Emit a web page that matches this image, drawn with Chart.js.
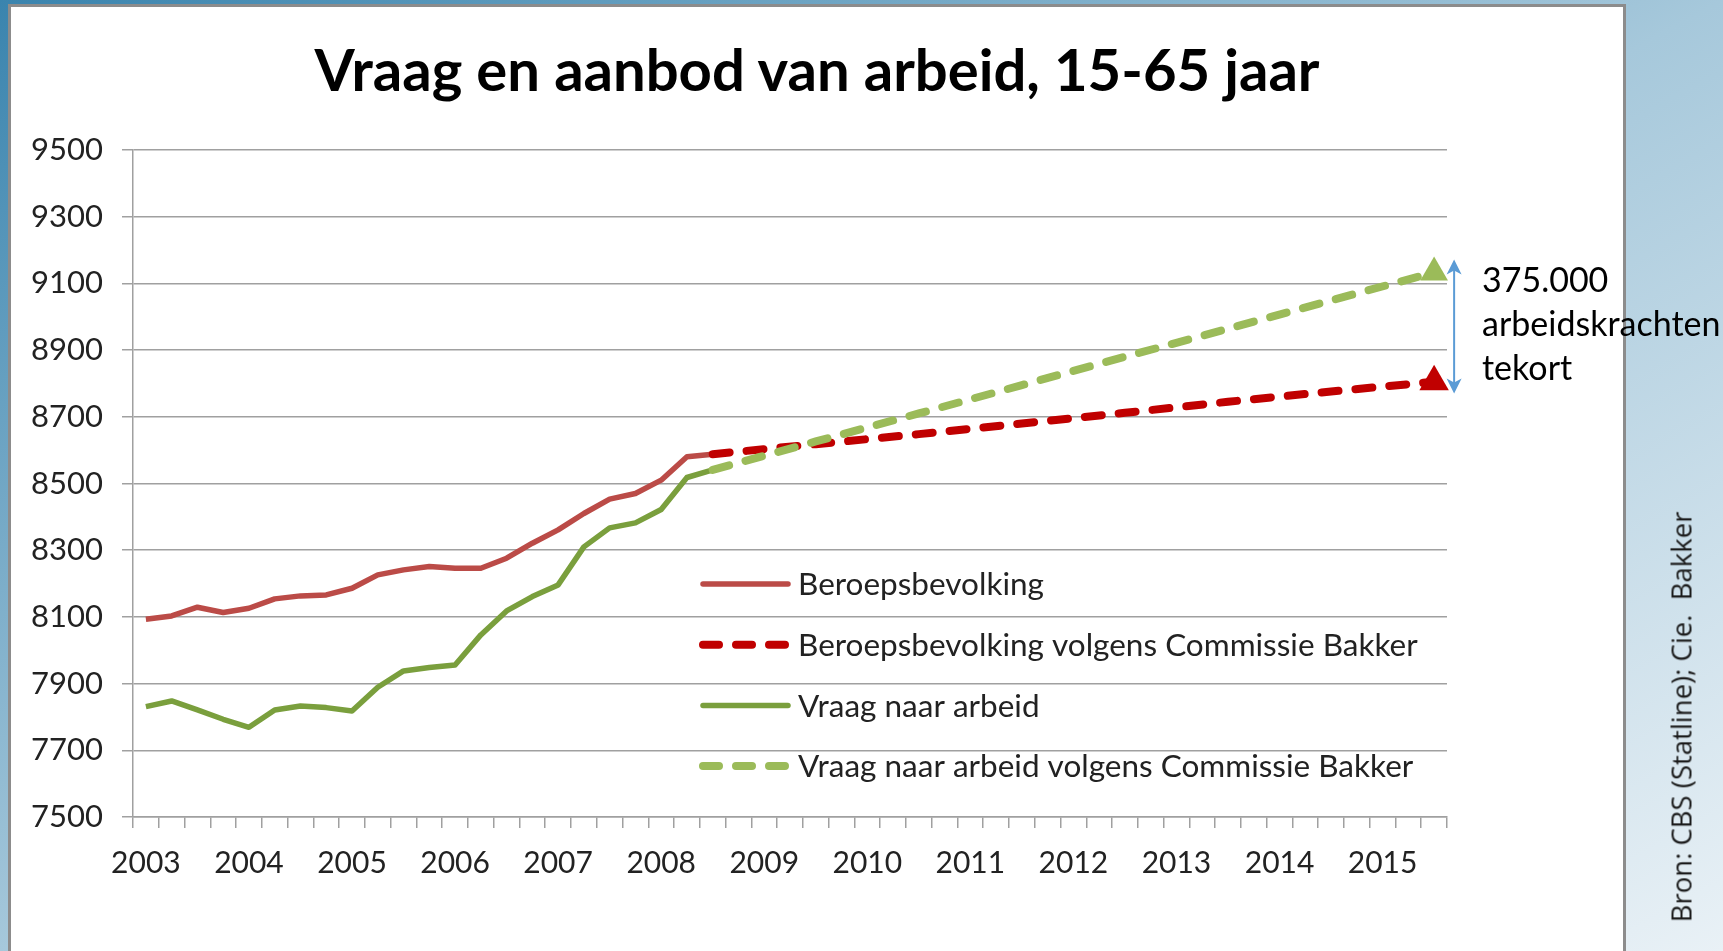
<!DOCTYPE html>
<html>
<head>
<meta charset="utf-8">
<title>Vraag en aanbod van arbeid, 15-65 jaar</title>
<script src="https://cdn.jsdelivr.net/npm/chart.js@4.4.1/dist/chart.umd.min.js"></script>
<style>
  html, body { margin: 0; padding: 0; }
  body {
    width: 1723px;
    height: 951px;
    overflow: hidden;
    position: relative;
    background: linear-gradient(to bottom right, #3a84ae 0%, #a6c8db 50%, #e9f1f6 100%);
    font-family: Lato, sans-serif;
  }
  .panel {
    position: absolute;
    left: 8px;
    top: 4px;
    width: 1612px;
    height: 980px;
    background: #fff;
    border: 3px solid #8c8c8c;
  }
  #chart { position: absolute; left: 0; top: 0; }
  .title {
    position: absolute;
    left: 0;
    top: 40px;
    width: 1634px;
    text-align: center;
    font: bold 58px/58px Lato, sans-serif;
    color: #000;
    white-space: nowrap;
  }
  .gap-label {
    position: absolute;
    left: 1482px;
    top: 257px;
    font: 34px/44px Lato, sans-serif;
    color: #000;
    white-space: nowrap;
  }
  .bron {
    position: absolute;
    left: 1681px;
    top: 717px;
    transform: translate(-50%, -50%) rotate(-90deg);
    font: 27.5px "Open Sans", sans-serif;
    color: #1a1a1a;
    white-space: nowrap;
  }
</style>
</head>
<body>

<div class="panel"></div>
<canvas id="chart" width="1723" height="951"></canvas>
<div class="title">Vraag en aanbod van arbeid, 15-65 jaar</div>
<div class="gap-label">375.000<br>arbeidskrachten<br>tekort</div>
<div class="bron">Bron: CBS (Statline); Cie.&nbsp; Bakker</div>

<script>
// per kwartaal, 2003 K1 t/m 2015 K3
const years = ['2003', '2004', '2005', '2006', '2007', '2008', '2009',
               '2010', '2011', '2012', '2013', '2014', '2015'];
const quarters = [];
years.forEach(y => ['K1', 'K2', 'K3', 'K4'].forEach(q => quarters.push(y + ' ' + q)));
quarters.length = 51;

const yTicks = [7500, 7700, 7900, 8100, 8300, 8500, 8700, 8900, 9100, 9300, 9500];

// gemeten reeksen (x 1000)
const beroepsbevolking = [8093, 8103, 8129, 8113, 8126, 8154, 8163, 8166, 8186, 8226,
                          8241, 8251, 8246, 8246, 8276, 8321, 8361, 8410, 8453, 8470,
                          8510, 8580, 8588];
const vraagNaarArbeid = [7831, 7848, 7821, 7793, 7769, 7821, 7833, 7828, 7818, 7889,
                         7938, 7948, 7956, 8046, 8118, 8161, 8196, 8310, 8367, 8382,
                         8422, 8518, 8541];

// prognose Commissie Bakker
const bakkerQuarters = ['2008 K3', '2009 K3', '2010 K3', '2011 K3', '2012 K3', '2013 K3', '2014 K3', '2015 K3'];
const beroepsBakker = [8588, 8618, 8648, 8680, 8712, 8745, 8776, 8805];
const vraagBakker = [8541, 8626, 8710, 8795, 8880, 8964, 9049, 9133];

// pijl tussen de twee eindpunten
const gapArrow = [8770, 9172];

const gridColor = '#a0a0a0';
const textColor = '#222';
const dashPattern = [17, 17];

function lastPoint(r) {
  return ctx => (ctx.dataIndex === ctx.dataset.data.length - 1 ? r : 0);
}

const insideLegend = {
  id: 'insideLegend',
  afterDatasetsDraw(chart) {
    const { ctx, chartArea } = chart;
    const x0 = chartArea.left + 567;
    const y0 = chartArea.top + 434;
    chart.data.datasets.forEach((ds, i) => {
      const y = y0 + i * 60.7;
      ctx.save();
      ctx.strokeStyle = ds.borderColor;
      ctx.lineWidth = ds.borderWidth;
      ctx.lineCap = 'round';
      ctx.setLineDash(ds.borderDash ? [16, 17] : []);
      ctx.beginPath();
      ctx.moveTo(x0 + 3, y);
      ctx.lineTo(x0 + 88, y);
      ctx.stroke();
      ctx.setLineDash([]);
      ctx.fillStyle = textColor;
      ctx.font = '31.5px Lato';
      ctx.textBaseline = 'middle';
      ctx.fillText(ds.label, x0 + 98, y + 1);
      ctx.restore();
    });
  }
};

const arrowPlugin = {
  id: 'gapArrow',
  afterDatasetsDraw(chart) {
    const { ctx, scales: { x, y } } = chart;
    const px = x.getPixelForValue(quarters.length - 1) + 20;
    const top = y.getPixelForValue(gapArrow[1]);
    const bottom = y.getPixelForValue(gapArrow[0]);
    ctx.save();
    ctx.strokeStyle = '#5b9bd5';
    ctx.fillStyle = '#5b9bd5';
    ctx.lineWidth = 2;
    ctx.beginPath();
    ctx.moveTo(px, top + 8);
    ctx.lineTo(px, bottom - 8);
    ctx.stroke();
    const head = (tip, dir) => {
      ctx.beginPath();
      ctx.moveTo(px, tip);
      ctx.lineTo(px - 7.5, tip + dir * 15);
      ctx.lineTo(px, tip + dir * 11);
      ctx.lineTo(px + 7.5, tip + dir * 15);
      ctx.closePath();
      ctx.fill();
    };
    head(top, 1);
    head(bottom, -1);
    ctx.restore();
  }
};

new Chart(document.getElementById('chart'), {
  type: 'line',
  data: {
    labels: quarters,
    datasets: [
      {
        label: 'Beroepsbevolking',
        data: beroepsbevolking,
        borderColor: '#bb4b47',
        borderWidth: 5.5,
        pointRadius: 0,
        order: 2
      },
      {
        label: 'Beroepsbevolking volgens Commissie Bakker',
        data: bakkerQuarters.map((q, i) => ({ x: q, y: beroepsBakker[i] })),
        borderColor: '#c00000',
        backgroundColor: '#c00000',
        borderWidth: 8,
        borderDash: dashPattern,
        borderCapStyle: 'round',
        pointStyle: 'triangle',
        pointRadius: lastPoint(17),
        pointBorderWidth: 0,
        order: 1
      },
      {
        label: 'Vraag naar arbeid',
        data: vraagNaarArbeid,
        borderColor: '#7a9f3d',
        borderWidth: 5.5,
        pointRadius: 0,
        order: 3
      },
      {
        label: 'Vraag naar arbeid volgens Commissie Bakker',
        data: bakkerQuarters.map((q, i) => ({ x: q, y: vraagBakker[i] })),
        borderColor: '#9bbb59',
        backgroundColor: '#9bbb59',
        borderWidth: 8,
        borderDash: dashPattern,
        borderCapStyle: 'round',
        pointStyle: 'triangle',
        pointRadius: lastPoint(16),
        pointBorderWidth: 0,
        order: 0
      }
    ]
  },
  options: {
    responsive: false,
    animation: false,
    events: [],
    devicePixelRatio: 1,
    layout: { padding: { left: 0, top: 150, right: 276, bottom: 0 } },
    elements: { line: { tension: 0, borderJoinStyle: 'round' } },
    plugins: {
      legend: { display: false },
      tooltip: { enabled: false }
    },
    scales: {
      x: {
        offset: true,
        grid: { offset: true, drawOnChartArea: false, tickLength: 11, color: gridColor, lineWidth: 1.5 },
        border: { display: true, color: gridColor, width: 1.5 },
        ticks: {
          autoSkip: false,
          maxRotation: 0,
          padding: 17,
          color: textColor,
          font: { family: 'Lato', size: 30 },
          callback: (value, index) => (index % 4 === 0 ? years[index / 4] : '')
        },
        afterFit: s => { s.height = 134; }
      },
      y: {
        min: 7500,
        max: 9500,
        afterBuildTicks: s => { s.ticks = yTicks.map(v => ({ value: v })); },
        grid: { tickLength: 11, color: gridColor, lineWidth: 1.5 },
        border: { display: true, color: gridColor, width: 1.5 },
        ticks: {
          padding: 19,
          color: textColor,
          font: { family: 'Lato', size: 31 },
          callback: value => String(value)
        },
        afterFit: s => { s.width = 133; }
      }
    }
  },
  plugins: [insideLegend, arrowPlugin]
});
</script>
</body>
</html>
